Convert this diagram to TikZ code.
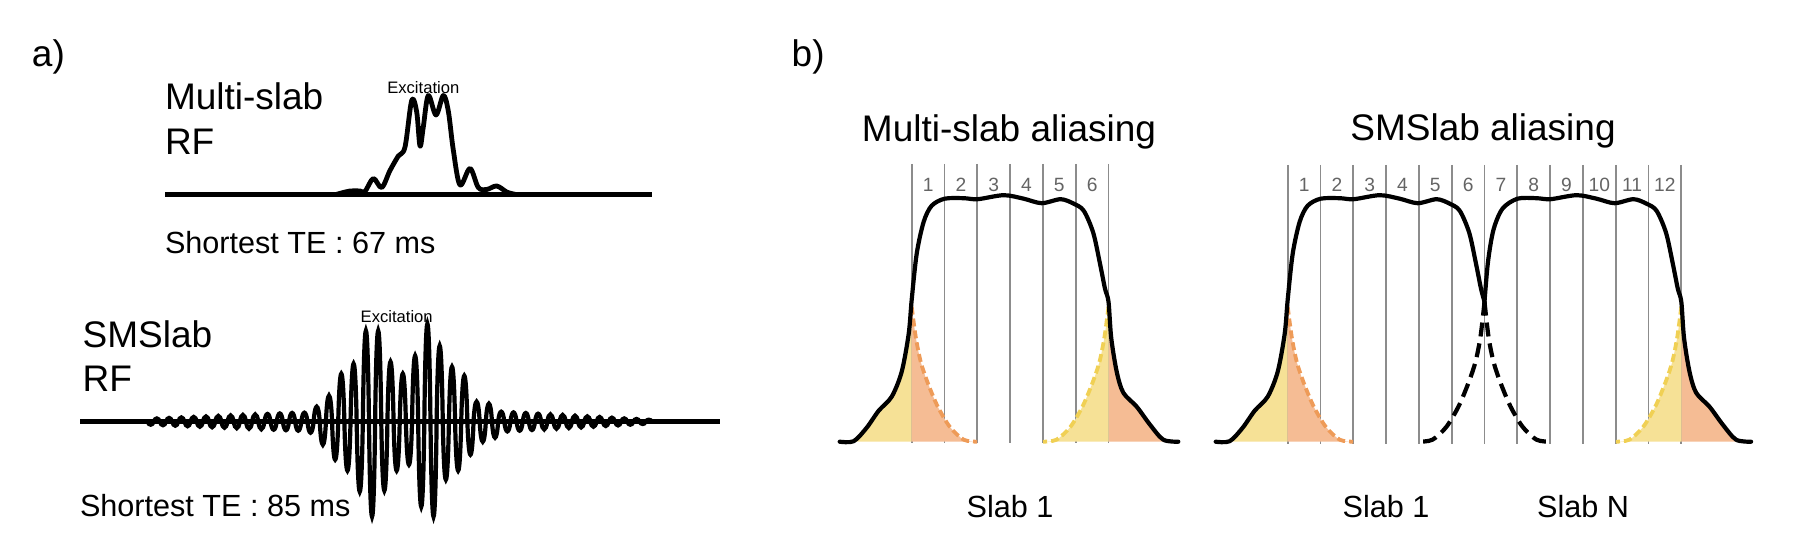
\documentclass[tikz,border=0pt]{standalone}
\usepackage{fontspec}
\setmainfont{Liberation Sans}
\definecolor{yfill}{RGB}{246,225,150}
\definecolor{ofill}{RGB}{245,188,148}
\definecolor{ydash}{RGB}{240,208,84}
\definecolor{odash}{RGB}{238,155,88}
\definecolor{gline}{RGB}{140,140,140}
\definecolor{numgray}{RGB}{100,100,100}

\newcommand\fillsLeft{%
  \fill[yfill] plot[smooth] coordinates {(-72,0) (-58,0.5) (-45,14) (-33,31) (-20,45) (-10,70) (-3,108) (0,142)} -- (0,0) -- cycle;
  \fill[ofill] (0,0) -- plot[smooth] coordinates {(0,135) (4,105) (9,80) (15.6,60) (25.6,36) (38,15) (52,2) (65.5,0)} -- cycle;
  \draw[cdash, odash] plot[smooth] coordinates {(0,135) (4,105) (9,80) (15.6,60) (25.6,36) (38,15) (52,2) (65.5,0)};
}
\newcommand\fillsRight{%
  \fill[ofill] (196.8,0) -- plot[smooth] coordinates {(196.8,140) (199.5,104) (205,70) (211.6,49) (225,35) (238.3,17) (251.6,2) (266.6,0)} -- cycle;
  \fill[yfill] (196.8,0) -- plot[smooth] coordinates {(196.8,135) (192.8,105) (187.8,80) (181.2,60) (171.2,36) (158.8,15) (144.8,2) (131.3,0)} -- cycle;
  \draw[cdash, ydash] plot[smooth] coordinates {(196.8,135) (192.8,105) (187.8,80) (181.2,60) (171.2,36) (158.8,15) (144.8,2) (131.3,0)};
}

\begin{document}
\begin{tikzpicture}[x=0.5pt,y=-0.5pt,
  big/.style={font=\fontsize{18.5}{22}\selectfont, inner sep=0pt, outer sep=0pt},
  mid/.style={font=\fontsize{15.3}{18}\selectfont, inner sep=0pt, outer sep=0pt},
  exc/.style={font=\fontsize{8.3}{10}\selectfont, inner sep=0pt, outer sep=0pt},
  num/.style={font=\fontsize{9.6}{11}\selectfont, text=numgray, inner sep=0pt, outer sep=0pt},
  gridline/.style={draw=gline, line width=0.85pt},
  prof/.style={line width=2.1pt, line cap=round, line join=round},
  bdash/.style={line width=2.1pt, dash pattern=on 7pt off 3.5pt},
  cdash/.style={line width=1.9pt, dash pattern=on 4pt off 2pt},
  rfline/.style={line width=2.4pt, line cap=round, line join=round},
  osc/.style={line width=2.1pt, line cap=round},
  rfbase/.style={line width=2.5pt}]
\useasboundingbox (0,0) rectangle (1811,560);

% ---------------- panel labels ----------------
\node[big, anchor=base west] (lblA) at (32,66.7) {a)};
\node[big, anchor=base west] (lblB) at (791.7,66.7) {b)};

% ---------------- a) Multi-slab RF ----------------
\node[big, anchor=base west] (rfM1) at (165,110) {Multi-slab};
\node[big, anchor=base west] (rfM2) at (165,155) {RF};
\draw[rfbase] (165,194.3) -- (651.7,194.3);
\draw[rfline] plot[smooth, tension=0.55] coordinates {(336.7,194.3) (350,191) (360,191) (365,191.5) (373.3,178.5) (381.7,187.5) (390,170.5) (398.3,156) (405,147) (411.7,100.5) (416.7,112) (420,146) (423.3,127) (428.3,95.5) (436,115) (443.3,95.5) (448.3,111) (453.3,150) (460,185) (470,168.5) (478.3,187.5) (486.7,189.5) (496.7,186) (506.7,192) (515,194.3)};
\node[exc, anchor=base] (excM) at (423.3,93.3) {Excitation};
\node[mid, anchor=base west] (teM) at (165,253.3) {Shortest TE : 67 ms};

% ---------------- a) SMSlab RF ----------------
\node[big, anchor=base west] (rfS1) at (82.7,347.3) {SMSlab};
\node[big, anchor=base west] (rfS2) at (82.7,391.7) {RF};
\draw[rfbase] (80,421.7) -- (720,421.7);
\foreach \a [count=\i from -27] in {
  -3,3.25,-3.5,3.75,-4,4.25,-4.5,4.75,-5,5.25,-5.5,5.75,-6,6.25,-6.5,6.75,-7,7.25,-7.5,7.75,-8,8.25,-8.5,8.75,-9,
  9,-11,15,-23,26,-38,48,-49,58,-70,91,-95,91,-69,60,-49,48,-43,66,-85,98,-95,76,-58,55,-49,46,-33,20,-20,18,-16,
  10,-9.7,9.3,-9,8.7,-8.3,8,-7.7,7.3,-7,6.7,-6.3,6,-5.7,5.3,-5,4.7,-4.3,4,-3.7,3.3,-3,2.7,-2.3,2}{
  \pgfmathsetmacro\cx{316.7+6.15*\i}
  \pgfmathsetmacro\xa{\cx-3.075}
  \pgfmathsetmacro\xb{\cx+3.075}
  \pgfmathsetmacro\ca{\cx-1.6}
  \pgfmathsetmacro\cb{\cx+1.6}
  \pgfmathsetmacro\yy{421.7-1.333*\a}
  \draw[osc] (\xa,421.7) .. controls (\ca,\yy) and (\cb,\yy) .. (\xb,421.7);
}
\node[exc, anchor=base] (excS) at (396.7,322.3) {Excitation};
\node[mid, anchor=base west] (teS) at (80,516.7) {Shortest TE : 85 ms};

% ---------------- b) Multi-slab aliasing ----------------
\node[big, anchor=base] (ttlM) at (1009,142) {Multi-slab aliasing};
\foreach \k in {0,...,6}{
  \draw[gridline] ({911.7+\k*32.8},164) -- ({911.7+\k*32.8},443);
}
\foreach \k in {1,...,6}{
  \node[num] (mn\k) at ({911.7+(\k-0.5)*32.8},185) {\k};
}
\begin{scope}[shift={(911.7,441.7)}, yscale=-1]
  \fillsLeft
  \fillsRight
  \draw[prof] plot[smooth] coordinates {(-72,0) (-58,0.5) (-45,14) (-33,31) (-20,45) (-10,70) (-3,108) (0,142) (5,188) (12,220) (20,236) (33,243) (52,243.5) (66,242.5) (92,246.5) (112,243) (130,238.5) (149,242.5) (162,238) (172,231) (181.5,209) (188.3,178) (193.3,153) (196.8,140) (199.5,104) (205,70) (211.6,49) (225,35) (238.3,17) (251.6,2) (266.6,0)};
\end{scope}
\node[mid, anchor=base] (slabM1) at (1010.1,518) {Slab 1};

% ---------------- b) SMSlab aliasing ----------------
\node[big, anchor=base] (ttlS) at (1483,141) {SMSlab aliasing};
\foreach \k in {0,...,12}{
  \draw[gridline] ({1287.7+\k*32.8},165) -- ({1287.7+\k*32.8},444);
}
\foreach \k in {1,...,12}{
  \node[num] (sn\k) at ({1287.7+(\k-0.5)*32.8},185) {\k};
}
\begin{scope}[shift={(1287.7,441.7)}, yscale=-1]
  \fillsLeft
  \draw[prof] plot[smooth] coordinates {(-72,0) (-58,0.5) (-45,14) (-33,31) (-20,45) (-10,70) (-3,108) (0,142) (5,188) (12,220) (20,236) (33,243) (52,243.5) (66,242.5) (92,246.5) (112,243) (130,238.5) (149,242.5) (162,238) (172,231) (181.5,209) (188.3,178) (193.3,153) (196.8,140)};
  \draw[bdash] plot[smooth] coordinates {(196.8,140) (200.8,105) (205.8,80) (212.4,60) (222.4,36) (234.8,15) (248.8,2) (262.3,0)};
\end{scope}
\begin{scope}[shift={(1484.5,441.7)}, yscale=-1]
  \fillsRight
  \draw[bdash] plot[smooth] coordinates {(0,140) (-4,105) (-9,80) (-15.6,60) (-25.6,36) (-38,15) (-52,2) (-65.5,0)};
  \draw[prof] plot[smooth] coordinates {(0,140) (3.5,180) (9,212) (18,233) (33,243) (52,243.5) (66,242.5) (92,246.5) (112,243) (130,238.5) (149,242.5) (162,238) (172,231) (181.5,209) (188.3,178) (193.3,153) (196.8,140) (199.5,104) (205,70) (211.6,49) (225,35) (238.3,17) (251.6,2) (266.6,0)};
\end{scope}
\node[mid, anchor=base] (slabS1) at (1386,518) {Slab 1};
\node[mid, anchor=base] (slabSN) at (1583,518) {Slab N};
\end{tikzpicture}
\end{document}
